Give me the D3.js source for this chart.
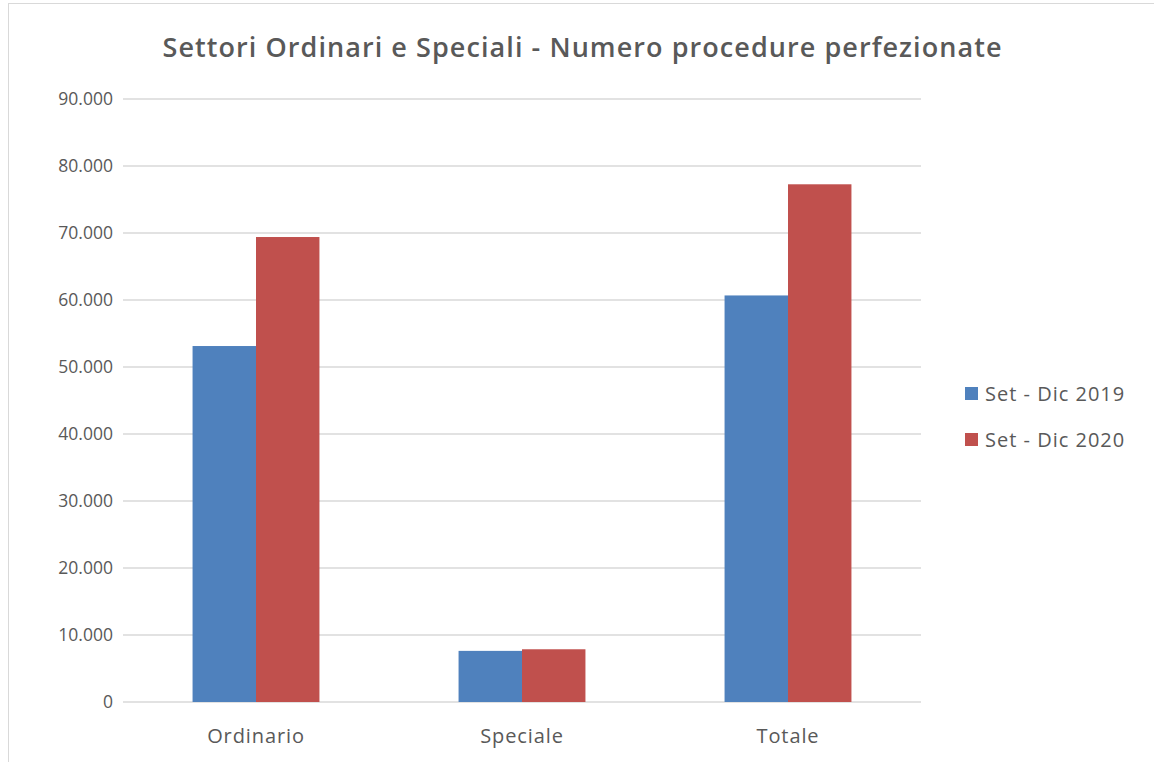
<!DOCTYPE html>
<html>
<head>
<meta charset="utf-8">
<script src="https://cdn.jsdelivr.net/npm/d3@7"></script>
<style>
  body { margin: 0; background: #fff; }
  text { font-family: "Open Sans", "Noto Sans", sans-serif; fill: #595959; }
</style>
</head>
<body>
<svg width="1154" height="762"></svg>
<script>
// data
const categories = ['Ordinario', 'Speciale', 'Totale'];
const seriesNames = ['Set - Dic 2019', 'Set - Dic 2020'];
const values2019 = [53130, 7630, 60680];
const values2020 = [69400, 7870, 77270];
const yTicks = [0, 10000, 20000, 30000, 40000, 50000, 60000, 70000, 80000, 90000];
const colors = ['#4f81bd', '#c0504d'];

let svg = d3.select('svg');

// chart frame
svg.append('rect')
   .attr('x', 8.5).attr('y', 3.5)
   .attr('width', 1160).attr('height', 780)
   .attr('fill', 'none')
   .attr('stroke', '#d9d9d9');

let margin = {left: 123, right: 233, top: 99, bottom: 60};
let width = 1154 - margin.left - margin.right,
    height = 762 - margin.top - margin.bottom;

let g = svg.append('g')
           .attr('transform', 'translate(' + margin.left + ',' + margin.top + ')');

let x = d3.scaleBand()
          .domain(categories)
          .range([0, width])
          .paddingInner(0.523)
          .paddingOuter(0.2615);

let x1 = d3.scaleBand()
           .domain(seriesNames)
           .range([0, x.bandwidth()]);

let y = d3.scaleLinear()
          .domain([0, 90000])
          .range([height, 0]);

let fmt = v => v === 0 ? '0' : d3.format(',')(v).replace(/,/g, '.');

// gridlines
g.selectAll('.grid')
 .data(yTicks)
 .enter().append('line')
 .attr('x1', 0).attr('x2', width)
 .attr('y1', d => y(d)).attr('y2', d => y(d))
 .attr('stroke', '#d9d9d9')
 .attr('stroke-width', 1.5);

// y labels
g.selectAll('.ylab')
 .data(yTicks)
 .enter().append('text')
 .attr('x', -10)
 .attr('y', d => y(d))
 .attr('dy', '0.35em')
 .attr('text-anchor', 'end')
 .style('font-size', '17.5px')
 .text(fmt);

// bars
let rows = categories.map((c, i) => ({cat: c, vals: [values2019[i], values2020[i]]}));

let groups = g.selectAll('.grp')
              .data(rows)
              .enter().append('g')
              .attr('transform', d => 'translate(' + x(d.cat) + ',0)');

groups.selectAll('rect')
      .data(d => d.vals.map((v, k) => ({name: seriesNames[k], v: v, k: k})))
      .enter().append('rect')
      .attr('x', d => x1(d.name))
      .attr('width', x1.bandwidth())
      .attr('y', d => y(d.v))
      .attr('height', d => height - y(d.v))
      .attr('fill', d => colors[d.k]);

// x labels
g.selectAll('.xlab')
 .data(categories)
 .enter().append('text')
 .attr('x', d => x(d) + x.bandwidth() / 2)
 .attr('y', height + 41)
 .attr('text-anchor', 'middle')
 .style('font-size', '20px')
 .style('letter-spacing', '0.9px')
 .text(d => d);

// title
svg.append('text')
   .attr('x', 582)
   .attr('y', 57)
   .attr('text-anchor', 'middle')
   .attr('textLength', 839)
   .attr('lengthAdjust', 'spacing')
   .style('font-size', '27px')
   .style('font-weight', '600')
   .text('Settori Ordinari e Speciali - Numero procedure perfezionate');

// legend
let legend = svg.selectAll('.leg')
                .data(seriesNames)
                .enter().append('g')
                .attr('transform', (d, i) => 'translate(965,' + (387 + i * 46) + ')');

legend.append('rect')
      .attr('width', 13).attr('height', 13)
      .attr('fill', (d, i) => colors[i]);

legend.append('text')
      .attr('x', 20)
      .attr('y', 7)
      .attr('dy', '0.35em')
      .style('font-size', '20px')
      .style('letter-spacing', '1px')
      .text(d => d);
</script>
</body>
</html>
